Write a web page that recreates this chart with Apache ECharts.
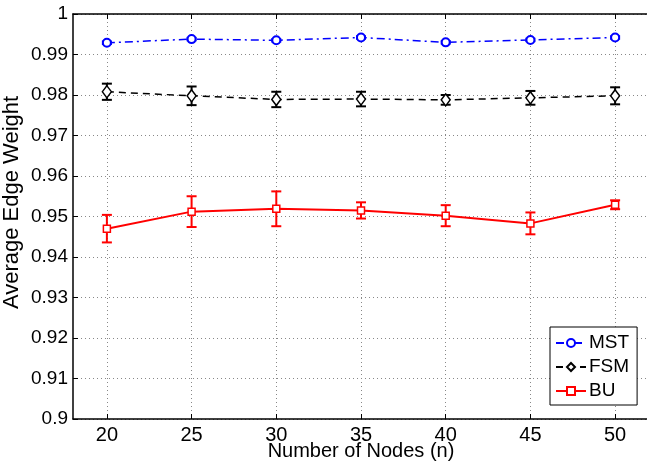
<!DOCTYPE html>
<html>
<head>
<meta charset="utf-8">
<script src="https://cdn.jsdelivr.net/npm/echarts@6/dist/echarts.min.js"></script>
<style>
  html, body { margin: 0; padding: 0; background: #fff; }
  #chart { width: 647px; height: 464px; }
</style>
</head>
<body>
<div id="chart"></div>
<script>
// x positions (number of nodes)
var nodes = [20, 25, 30, 35, 40, 45, 50];
var xTicks = [20, 25, 30, 35, 40, 45, 50];
var yTicks = [0.9, 0.91, 0.92, 0.93, 0.94, 0.95, 0.96, 0.97, 0.98, 0.99, 1];

// means
var mstMean = [0.9929, 0.9938, 0.9935, 0.9942, 0.9930, 0.9936, 0.9942];
var fsmMean = [0.9808, 0.9798, 0.9789, 0.9790, 0.9788, 0.9793, 0.9798];
var buMean  = [0.9470, 0.9512, 0.9519, 0.9515, 0.9502, 0.9483, 0.9529];

// half widths of the error bars
var mstErr = [0.0003, 0.0003, 0.0003, 0.0003, 0.0003, 0.0003, 0.0003];
var fsmErr = [0.0020, 0.0023, 0.0019, 0.0018, 0.0012, 0.0017, 0.0021];
var buErr  = [0.0034, 0.0038, 0.0043, 0.0020, 0.0026, 0.0027, 0.0011];

var FONT = '"Liberation Sans", Arial, Helvetica, sans-serif';

function pts(mean) {
  return nodes.map(function (n, i) { return [n, mean[i]]; });
}
function errData(mean, err) {
  return nodes.map(function (n, i) { return [n, mean[i] - err[i], mean[i] + err[i]]; });
}
function errSeries(name, mean, err, color) {
  return {
    name: name,
    type: 'custom',
    data: errData(mean, err),
    z: 3,
    renderItem: function (params, api) {
      var x = api.value(0);
      var lo = api.coord([x, api.value(1)]);
      var hi = api.coord([x, api.value(2)]);
      var cap = 5;
      var st = { stroke: color, lineWidth: 2 };
      return {
        type: 'group',
        children: [
          { type: 'line', shape: { x1: lo[0], y1: lo[1], x2: hi[0], y2: hi[1] }, style: st },
          { type: 'line', shape: { x1: lo[0] - cap, y1: lo[1], x2: lo[0] + cap, y2: lo[1] }, style: st },
          { type: 'line', shape: { x1: hi[0] - cap, y1: hi[1], x2: hi[0] + cap, y2: hi[1] }, style: st }
        ]
      };
    }
  };
}

var chart = echarts.init(document.getElementById('chart'));

var option = {
  animation: false,
  backgroundColor: '#fff',
  textStyle: { fontFamily: FONT },
  grid: { left: 73, top: 14, width: 576, height: 405, containLabel: false, outerBoundsMode: 'none' },
  legend: {
    left: 550, top: 327,
    orient: 'vertical',
    data: ['MST', 'FSM', 'BU'],
    backgroundColor: '#fff',
    borderColor: '#000',
    borderWidth: 1,
    borderRadius: 0,
    padding: [6, 8, 4, 5],
    itemGap: 4,
    itemWidth: 30,
    itemHeight: 10,
    textStyle: { fontFamily: FONT, fontSize: 19, color: '#000', lineHeight: 20, padding: [0, 0, 0, -2] }
  },
  xAxis: [{
    type: 'value',
    min: 18, max: 52,
    name: 'Number of Nodes (n)',
    nameLocation: 'middle',
    nameGap: 22,
    nameMoveOverlap: false,
    nameTextStyle: { fontFamily: FONT, fontSize: 20, color: '#000' },
    axisLine: { onZero: false, lineStyle: { color: '#000', width: 1.5 } },
    axisTick: { inside: true, length: 5, customValues: xTicks, lineStyle: { color: '#000' } },
    axisLabel: { customValues: xTicks, fontFamily: FONT, fontSize: 20, color: '#000', margin: 6 },
    splitLine: { show: true, lineStyle: { color: '#888', type: [1, 3], width: 1 } }
  }, {
    type: 'value',
    position: 'top',
    min: 18, max: 52,
    axisLine: { show: true, onZero: false, lineStyle: { color: '#000', width: 1.5 } },
    axisTick: { inside: true, length: 5, customValues: xTicks, lineStyle: { color: '#000' } },
    axisLabel: { show: false },
    splitLine: { show: false }
  }],
  yAxis: {
    type: 'value',
    min: 0.9, max: 1, interval: 0.01,
    name: 'Average Edge Weight',
    nameLocation: 'middle',
    nameGap: 50,
    nameMoveOverlap: false,
    nameTextStyle: { fontFamily: FONT, fontSize: 22, color: '#000', padding: [0, 0, 0, 28] },
    axisLine: { show: true, onZero: false, lineStyle: { color: '#000', width: 1.5 } },
    axisTick: { show: true, inside: true, length: 5, lineStyle: { color: '#000' } },
    axisLabel: {
      fontFamily: FONT, fontSize: 19, color: '#000', margin: 5,
      formatter: function (v) { return String(parseFloat(v.toFixed(2))); }
    },
    splitLine: { show: true, lineStyle: { color: '#888', type: [1, 3], width: 1 } }
  },
  series: [
    {
      name: 'MST', type: 'line', data: pts(mstMean), z: 4,
      symbol: 'circle', symbolSize: 8,
      lineStyle: { color: '#0000ff', width: 1.5, type: [8, 4, 2, 4] },
      itemStyle: { color: '#fff', borderColor: '#0000ff', borderWidth: 2 }
    },
    errSeries('MST err', mstMean, mstErr, '#0000ff'),
    {
      name: 'FSM', type: 'line', data: pts(fsmMean), z: 4,
      symbol: 'diamond', symbolSize: [9, 12],
      lineStyle: { color: '#000', width: 1.5, type: [7, 5] },
      itemStyle: { color: '#fff', borderColor: '#000', borderWidth: 1.5 }
    },
    errSeries('FSM err', fsmMean, fsmErr, '#000'),
    {
      name: 'BU', type: 'line', data: pts(buMean), z: 4,
      symbol: 'rect', symbolSize: 7,
      lineStyle: { color: '#ff0000', width: 2, type: 'solid' },
      itemStyle: { color: '#fff', borderColor: '#ff0000', borderWidth: 1.5 }
    },
    errSeries('BU err', buMean, buErr, '#ff0000')
  ]
};

chart.setOption(option);
</script>
</body>
</html>
